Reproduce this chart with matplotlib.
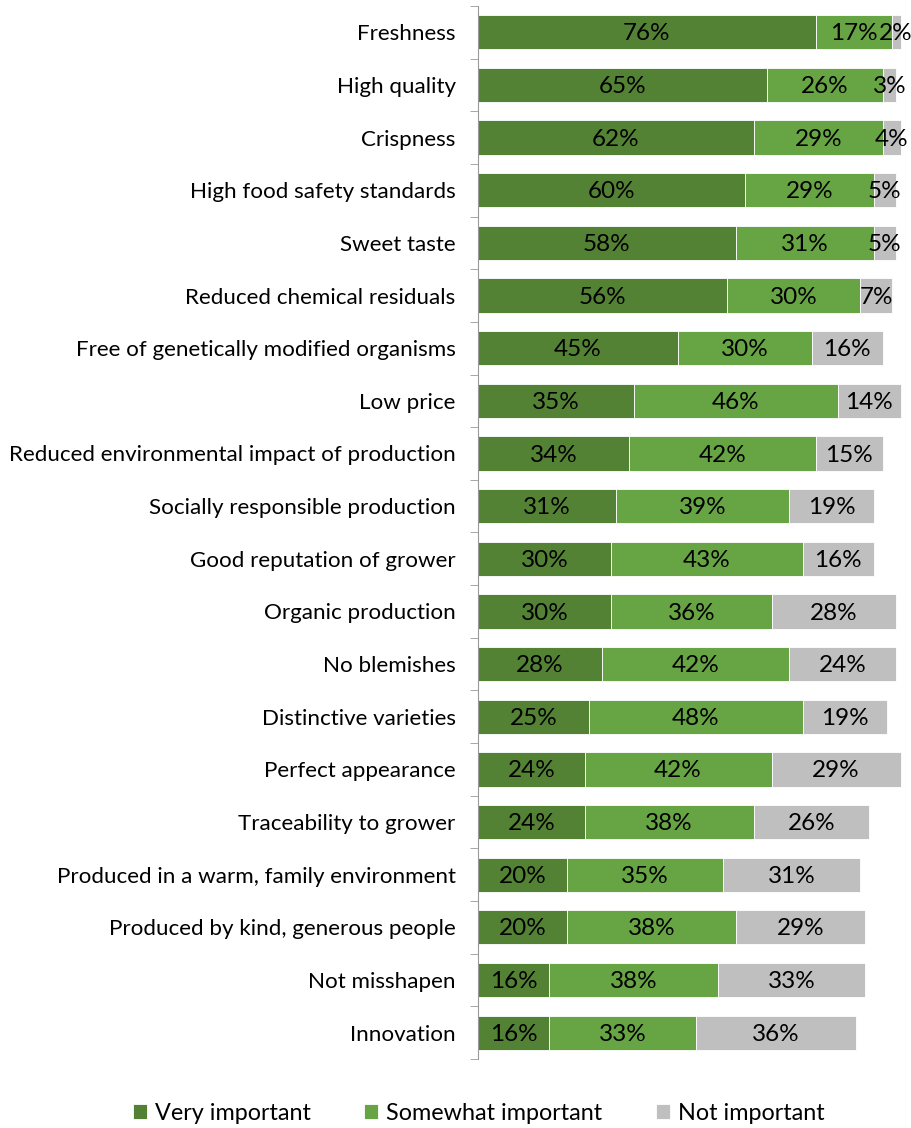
import numpy as np
import matplotlib.pyplot as plt

# Data (top to bottom)
attributes = ['Freshness', 'High quality', 'Crispness', 'High food safety standards',
              'Sweet taste', 'Reduced chemical residuals',
              'Free of genetically modified organisms', 'Low price',
              'Reduced environmental impact of production',
              'Socially responsible production', 'Good reputation of grower',
              'Organic production', 'No blemishes', 'Distinctive varieties',
              'Perfect appearance', 'Traceability to grower',
              'Produced in a warm, family environment',
              'Produced by kind, generous people', 'Not misshapen', 'Innovation']
very_important = [76, 65, 62, 60, 58, 56, 45, 35, 34, 31, 30, 30, 28, 25, 24, 24, 20, 20, 16, 16]
somewhat_important = [17, 26, 29, 29, 31, 30, 30, 46, 42, 39, 43, 36, 42, 48, 42, 38, 35, 38, 38, 33]
not_important = [2, 3, 4, 5, 5, 7, 16, 14, 15, 19, 16, 28, 24, 19, 29, 26, 31, 29, 33, 36]

series = [('Very important', very_important, '#548235'),
          ('Somewhat important', somewhat_important, '#67A544'),
          ('Not important', not_important, '#BFBFBF')]

plt.rcParams['font.family'] = ['Lato', 'DejaVu Sans']
fs = 16.1

fig = plt.figure(figsize=(9.12, 11.28), dpi=100)
ax = fig.add_axes([0.524, 0.0612, 0.4683, 0.9335])

y = np.arange(len(attributes))
left = np.zeros(len(attributes))
for name, vals, col in series:
    vals = np.array(vals, dtype=float)
    ax.barh(y, vals, left=left, height=0.65, color=col, edgecolor='white',
            linewidth=0.6, label=name)
    for yi, l, v in zip(y, left, vals):
        ax.text(l + v / 2, yi + 0.03, f'{int(v)}%', ha='center', va='center', fontsize=17.5, color='black')
    left += vals

ax.set_xlim(0, 96)
ax.set_ylim(len(attributes) - 0.5, -0.5)
ax.set_yticks(y)
ax.set_yticklabels(attributes, fontsize=fs)
ax.set_yticks(np.arange(-0.5, len(attributes)), minor=True)
ax.tick_params(axis='y', which='major', length=0, pad=16)
ax.tick_params(axis='y', which='minor', length=6, color='#999999', direction='out')
ax.set_xticks([])
for s in ['top', 'right', 'bottom']:
    ax.spines[s].set_visible(False)
ax.spines['left'].set_color('#999999')

ax.legend(loc='center', bbox_to_anchor=(0.525, 0.013), bbox_transform=fig.transFigure,
          ncol=3, frameon=False, fontsize=16.8, handlelength=0.6, handleheight=0.6,
          handletextpad=0.35, columnspacing=2.3)

fig.savefig('out.png', dpi=100)
